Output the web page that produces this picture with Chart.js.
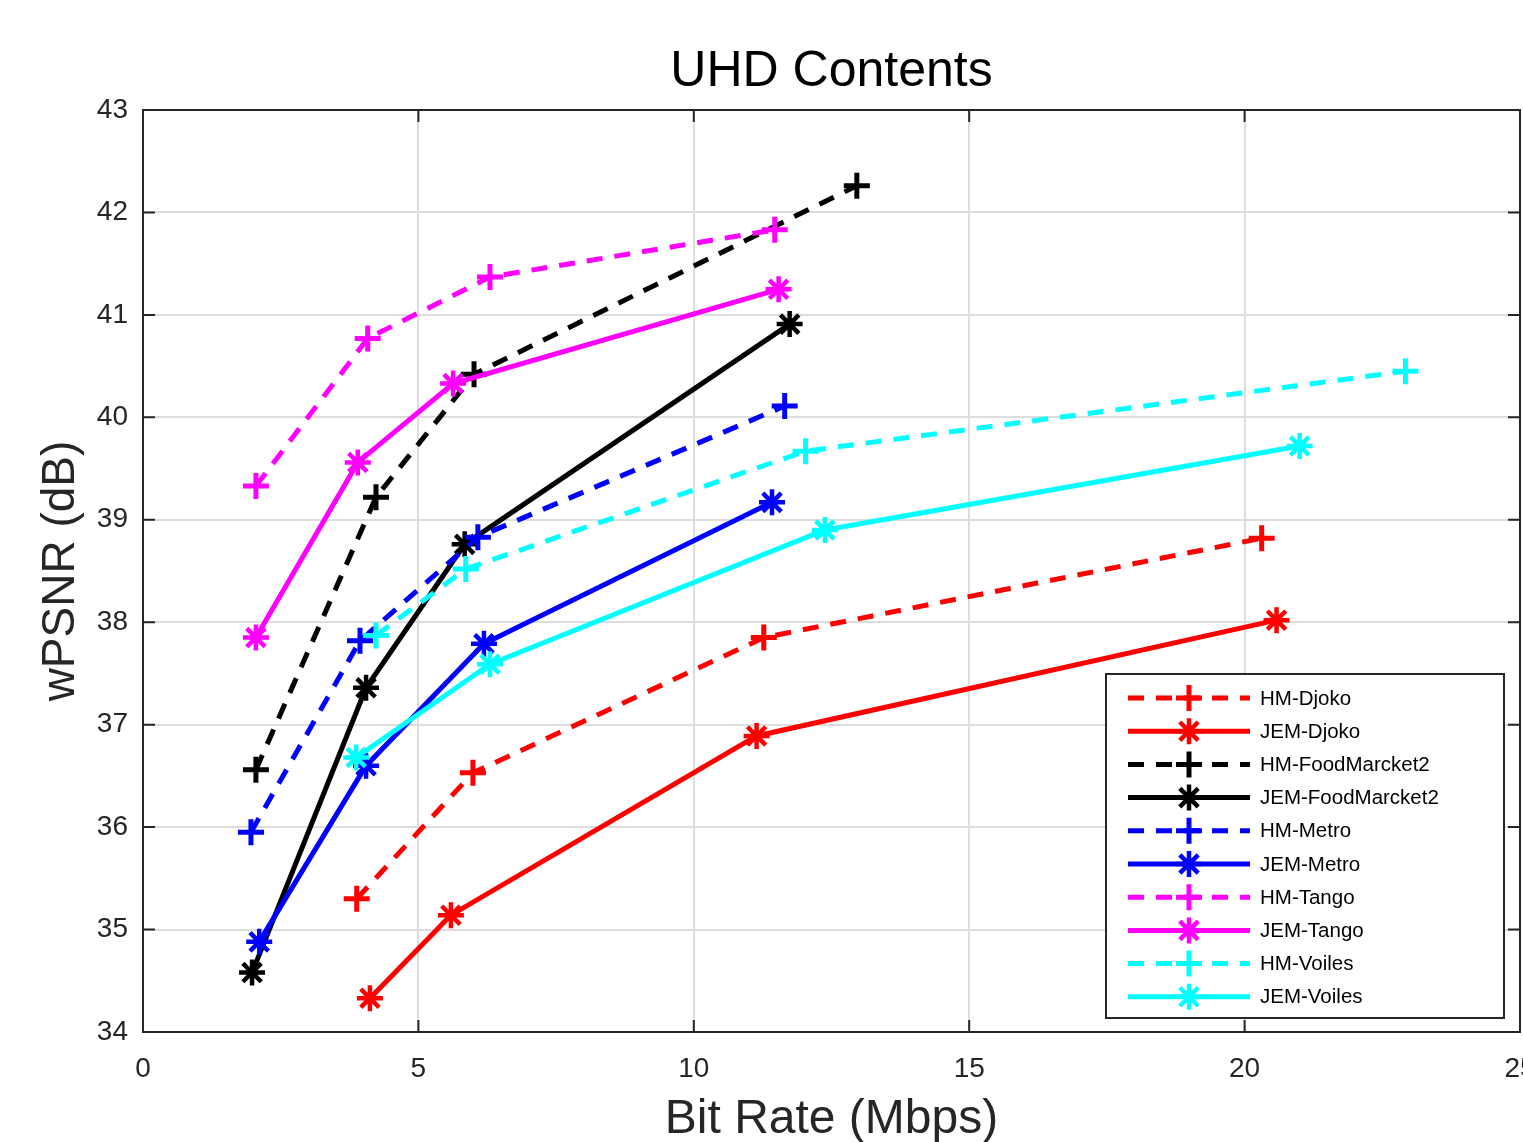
<!DOCTYPE html>
<html>
<head>
<meta charset="utf-8">
<title>UHD Contents</title>
<script src="https://cdn.jsdelivr.net/npm/chart.js@4.4.1/dist/chart.umd.min.js"></script>
<style>
  html, body { margin: 0; padding: 0; background: #fff; overflow: hidden; }
  #wrap { width: 1560px; height: 1165px; }
</style>
</head>
<body>
<div id="wrap"><canvas id="uhdChart" width="1560" height="1165"></canvas></div>
<script>
// series names, in legend order
var seriesNames = ['HM-Djoko', 'JEM-Djoko', 'HM-FoodMarcket2', 'JEM-FoodMarcket2',
                   'HM-Metro', 'JEM-Metro', 'HM-Tango', 'JEM-Tango', 'HM-Voiles', 'JEM-Voiles'];

// bit rate (Mbps) and wPSNR (dB) per series
var hmDjokoRate = [3.88, 5.99, 11.27, 20.31];
var hmDjokoPsnr = [35.30, 36.53, 37.85, 38.82];
var jemDjokoRate = [4.12, 5.59, 11.14, 20.58];
var jemDjokoPsnr = [34.33, 35.14, 36.89, 38.02];

var hmFoodRate = [2.05, 4.23, 6.01, 12.96];
var hmFoodPsnr = [36.56, 39.22, 40.42, 42.26];
var jemFoodRate = [1.98, 4.05, 5.84, 11.74];
var jemFoodPsnr = [34.58, 37.36, 38.76, 40.91];

var hmMetroRate = [1.96, 3.94, 6.08, 11.65];
var hmMetroPsnr = [35.95, 37.82, 38.83, 40.11];
var jemMetroRate = [2.11, 4.05, 6.19, 11.42];
var jemMetroPsnr = [34.88, 36.60, 37.79, 39.17];

var hmTangoRate = [2.05, 4.08, 6.30, 11.47];
var hmTangoPsnr = [39.33, 40.77, 41.37, 41.83];
var jemTangoRate = [2.05, 3.90, 5.63, 11.54];
var jemTangoPsnr = [37.85, 39.56, 40.33, 41.25];

var hmVoilesRate = [4.23, 5.86, 12.03, 22.92];
var hmVoilesPsnr = [37.87, 38.52, 39.67, 40.45];
var jemVoilesRate = [3.87, 6.30, 12.38, 21.00];
var jemVoilesPsnr = [36.68, 37.59, 38.90, 39.72];

var rates = [hmDjokoRate, jemDjokoRate, hmFoodRate, jemFoodRate, hmMetroRate,
             jemMetroRate, hmTangoRate, jemTangoRate, hmVoilesRate, jemVoilesRate];
var psnrs = [hmDjokoPsnr, jemDjokoPsnr, hmFoodPsnr, jemFoodPsnr, hmMetroPsnr,
             jemMetroPsnr, hmTangoPsnr, jemTangoPsnr, hmVoilesPsnr, jemVoilesPsnr];

var xTickValues = [0, 5, 10, 15, 20, 25];
var yTickValues = [34, 35, 36, 37, 38, 39, 40, 41, 42, 43];

var seriesColors = ['#ff0000', '#ff0000', '#000000', '#000000', '#0000ff',
                    '#0000ff', '#ff00ff', '#ff00ff', '#00ffff', '#00ffff'];

var FONT = 'Helvetica, "Liberation Sans", Arial, sans-serif';
var DASH = [16, 12];

var datasets = seriesNames.map(function(name, i) {
    var isHM = name.indexOf('HM') === 0;
    return {
        label: name,
        data: rates[i].map(function(r, k) { return {x: r, y: psnrs[i][k]}; }),
        borderColor: seriesColors[i],
        backgroundColor: seriesColors[i],
        borderWidth: 5,
        borderDash: isHM ? DASH : [],
        pointStyle: isHM ? 'cross' : 'star',
        pointRadius: isHM ? 13 : 13,
        pointBorderWidth: isHM ? 5 : 4.5,
        pointBorderColor: seriesColors[i],
        pointBackgroundColor: seriesColors[i],
        tension: 0,
        fill: false,
        order: 20 - i
    };
});

// box, inward ticks and the legend box, MATLAB style
var framePlugin = {
    id: 'frame',
    afterDatasetsDraw: function(chart) {
        var ctx = chart.ctx, a = chart.chartArea;
        var xs = chart.scales.x, ys = chart.scales.y;
        ctx.save();
        ctx.strokeStyle = '#262626';
        ctx.lineWidth = 2;
        ctx.setLineDash([]);
        ctx.strokeRect(a.left, a.top, a.right - a.left, a.bottom - a.top);
        ctx.beginPath();
        xTickValues.forEach(function(v) {
            var px = xs.getPixelForValue(v);
            ctx.moveTo(px, a.bottom); ctx.lineTo(px, a.bottom - 12);
            ctx.moveTo(px, a.top); ctx.lineTo(px, a.top + 12);
        });
        yTickValues.forEach(function(v) {
            var py = ys.getPixelForValue(v);
            ctx.moveTo(a.left, py); ctx.lineTo(a.left + 12, py);
            ctx.moveTo(a.right, py); ctx.lineTo(a.right - 12, py);
        });
        ctx.stroke();

        // legend
        var lx = 1106, ly = 674, lw = 398, lh = 344;
        ctx.fillStyle = '#ffffff';
        ctx.fillRect(lx, ly, lw, lh);
        ctx.strokeStyle = '#262626';
        ctx.lineWidth = 2;
        ctx.strokeRect(lx, ly, lw, lh);
        ctx.font = '20.5px ' + FONT;
        ctx.textBaseline = 'middle';
        ctx.textAlign = 'left';
        chart.data.datasets.forEach(function(ds, i) {
            var cy = ly + 24 + i * 33.2;
            ctx.strokeStyle = ds.borderColor;
            ctx.fillStyle = ds.borderColor;
            ctx.lineWidth = 5;
            ctx.setLineDash(ds.borderDash);
            ctx.beginPath();
            ctx.moveTo(1128, cy); ctx.lineTo(1250, cy);
            ctx.stroke();
            ctx.setLineDash([]);
            ctx.lineWidth = ds.pointBorderWidth;
            Chart.helpers.drawPoint(ctx, {
                pointStyle: ds.pointStyle, radius: ds.pointRadius,
                rotation: 0, borderWidth: ds.pointBorderWidth
            }, 1189, cy);
            ctx.fillStyle = '#000000';
            ctx.fillText(ds.label, 1260, cy + 1);
        });
        ctx.restore();
    }
};

new Chart(document.getElementById('uhdChart'), {
    type: 'line',
    data: { datasets: datasets },
    plugins: [framePlugin],
    options: {
        responsive: false,
        animation: false,
        devicePixelRatio: 1,
        layout: { padding: { left: 0, right: 40, top: 0, bottom: 0 } },
        plugins: {
            legend: { display: false },
            tooltip: { enabled: false },
            title: {
                display: true,
                fullSize: false,
                text: 'UHD Contents',
                color: '#000000',
                font: { family: FONT, size: 50, weight: 'normal' },
                padding: { top: 42, bottom: 8 }
            }
        },
        scales: {
            x: {
                type: 'linear',
                min: 0, max: 25,
                afterFit: function(s) { s.height = 133; },
                afterBuildTicks: function(s) { s.ticks = xTickValues.map(function(v) { return {value: v}; }); },
                grid: { color: '#dddddd', lineWidth: 2, drawTicks: false },
                border: { display: true, color: '#262626', width: 2 },
                ticks: { color: '#262626', padding: 20, maxRotation: 0,
                         font: { family: FONT, size: 28 } },
                title: {
                    display: true, text: 'Bit Rate (Mbps)', color: '#262626',
                    font: { family: FONT, size: 48 },
                    padding: { top: 0, bottom: 16 }
                }
            },
            y: {
                type: 'linear',
                min: 34, max: 43,
                afterFit: function(s) { s.width = 143; },
                afterBuildTicks: function(s) { s.ticks = yTickValues.map(function(v) { return {value: v}; }); },
                grid: { color: '#dddddd', lineWidth: 2, drawTicks: false },
                border: { display: true, color: '#262626', width: 2 },
                ticks: { color: '#262626', padding: 15,
                         font: { family: FONT, size: 28 } },
                title: {
                    display: true, text: 'wPSNR (dB)', color: '#262626',
                    font: { family: FONT, size: 46 },
                    padding: { top: 34, bottom: 0 }
                }
            }
        }
    }
});
</script>
</body>
</html>
